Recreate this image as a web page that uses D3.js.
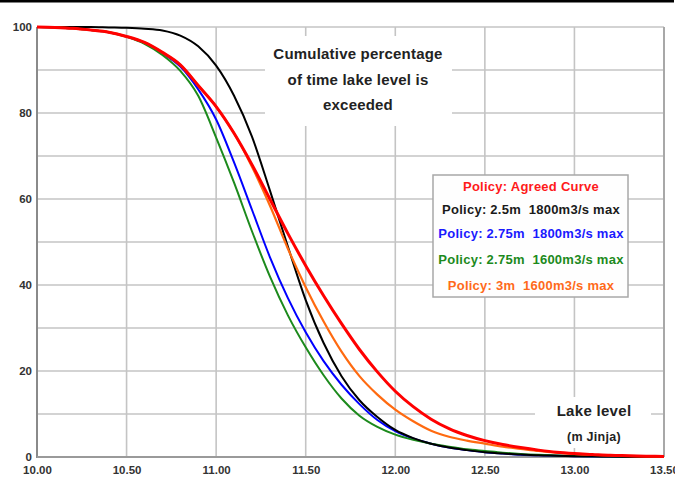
<!DOCTYPE html>
<html>
<head>
<meta charset="utf-8">
<script src="https://cdn.jsdelivr.net/npm/d3@7/dist/d3.min.js"></script>
<style>
  body { margin: 0; background: #fff; }
  text { font-family: "Liberation Sans", Arial, sans-serif; font-weight: bold; }
</style>
</head>
<body>
<div id="chart"></div>
<script>
// lake level (m Jinja) on the x axis
var levels = [10.0, 10.1, 10.2, 10.3, 10.4, 10.5, 10.6, 10.7, 10.8, 10.9,
              11.0, 11.1, 11.2, 11.3, 11.4, 11.5, 11.6, 11.7, 11.8, 11.9,
              12.0, 12.1, 12.2, 12.3, 12.4, 12.5, 12.6, 12.7, 12.8, 12.9,
              13.0, 13.1, 13.2, 13.3, 13.4, 13.5];

// cumulative % of time each level is exceeded, one list per policy
var agreedCurve = [100, 99.9, 99.7, 99.3, 98.8, 97.8, 96.4, 94.1, 91.2, 86.4,
                   81.5, 75.3, 68, 60, 52, 44.5, 37.5, 31, 25, 19.8,
                   15.3, 11.7, 8.8, 6.6, 5.0, 3.8, 2.9, 2.2, 1.6, 1.1,
                   0.8, 0.6, 0.4, 0.3, 0.2, 0.1];
var policy25m1800 = [100, 100, 100, 100, 99.9, 99.8, 99.6, 99.2, 98.0, 95.5,
                     91.0, 84.0, 74.5, 62, 49.0, 36.5, 26.5, 18.8, 13.2, 9.3,
                     6.3, 4.4, 3.1, 2.2, 1.6, 1.1, 0.8, 0.6, 0.4, 0.3,
                     0.2, 0.15, 0.1, 0.05, 0, 0];
var policy275m1800 = [100, 99.9, 99.7, 99.3, 98.8, 97.8, 96.3, 93.9, 90.8, 85.5,
                      78.5, 68.5, 57.5, 46.5, 37, 29, 22.3, 16.8, 12.3, 8.6,
                      6.0, 4.3, 3.1, 2.2, 1.6, 1.1, 0.8, 0.55, 0.4, 0.3,
                      0.2, 0.12, 0.08, 0.05, 0, 0];
var policy275m1600 = [100, 99.9, 99.7, 99.3, 98.8, 97.7, 96.1, 93.5, 89.8, 84,
                      74.3, 63.8, 52.5, 42, 33, 25.5, 19.0, 13.6, 9.6, 7.0,
                      5.2, 4.0, 3.1, 2.4, 1.8, 1.4, 1.0, 0.7, 0.5, 0.35,
                      0.25, 0.15, 0.1, 0.05, 0, 0];
var policy3m1600 = [100, 99.9, 99.7, 99.3, 98.8, 97.8, 96.4, 94.1, 91.2, 86.4,
                    81.5, 75.3, 67.5, 58.5, 48.5, 39.5, 31.5, 24.5, 18.8, 14.5,
                    11.0, 8.3, 6.1, 4.7, 3.8, 3.1, 2.4, 1.9, 1.4, 1.0,
                    0.7, 0.5, 0.35, 0.25, 0.15, 0.1];

// tick labels
var xTicks = [10.0, 10.5, 11.0, 11.5, 12.0, 12.5, 13.0, 13.5];
var yTicks = [0, 20, 40, 60, 80, 100];
var yGrid = [10, 20, 30, 40, 50, 60, 70, 80, 90, 100];

// legend / title texts
var legendLabels = ["Policy: Agreed Curve",
                    "Policy: 2.5m  1800m3/s max",
                    "Policy: 2.75m  1800m3/s max",
                    "Policy: 2.75m  1600m3/s max",
                    "Policy: 3m  1600m3/s max"];
var titleLines = ["Cumulative percentage", "of time lake level is", "exceeded"];

//define width and height
var width = 675;
var height = 478;

var svg = d3.select("#chart").append("svg")
            .attr("width", width).attr("height", height);

var x = d3.scaleLinear().domain([10, 13.5]).range([37, 664]);
var y = d3.scaleLinear().domain([0, 100]).range([457, 27]);

//black bar at the very top
svg.append("rect").attr("x", 0).attr("y", 0).attr("width", 674).attr("height", 2.5)
   .attr("fill", "#000");

//grid lines
svg.append("g").selectAll("line").data(yGrid).enter().append("line")
   .attr("x1", x(10)).attr("x2", x(13.5))
   .attr("y1", function(d) { return y(d); }).attr("y2", function(d) { return y(d); })
   .attr("stroke", "#c4c4c4").attr("stroke-width", 1.6);

svg.append("g").selectAll("line").data(xTicks.slice(1)).enter().append("line")
   .attr("x1", function(d) { return x(d); }).attr("x2", function(d) { return x(d); })
   .attr("y1", y(100)).attr("y2", y(0))
   .attr("stroke", function(d) { return d === 13.5 ? "#a8a8a8" : "#c4c4c4"; })
   .attr("stroke-width", function(d) { return d === 13.5 ? 2 : 1.6; });

//white boxes behind the notes
svg.append("rect").attr("x", 265).attr("y", 36).attr("width", 187).attr("height", 90)
   .attr("fill", "#fff");
svg.append("rect").attr("x", 535).attr("y", 397).attr("width", 116).attr("height", 51)
   .attr("fill", "#fff");

//axis lines
svg.append("line").attr("x1", x(10)).attr("x2", x(10)).attr("y1", y(100)).attr("y2", y(0) + 1)
   .attr("stroke", "#8a8a8a").attr("stroke-width", 2);
svg.append("line").attr("x1", x(10)).attr("x2", x(13.5)).attr("y1", y(0)).attr("y2", y(0))
   .attr("stroke", "#9a9a9a").attr("stroke-width", 2);

//tick labels through axes
var xAxis = d3.axisBottom(x).tickValues(xTicks).tickFormat(d3.format(".2f"))
              .tickSize(0).tickPadding(9);
var gx = svg.append("g").attr("transform", "translate(0," + y(0) + ")").call(xAxis);
gx.select(".domain").remove();
gx.selectAll("text").attr("font-size", 11.5).attr("fill", "#333")
  .style("font-family", "'Liberation Sans', Arial, sans-serif").style("font-weight", "bold");

var yAxis = d3.axisLeft(y).tickValues(yTicks).tickFormat(d3.format("d"))
              .tickSize(0).tickPadding(5);
var gy = svg.append("g").attr("transform", "translate(" + x(10) + ",0)").call(yAxis);
gy.select(".domain").remove();
gy.selectAll("text").attr("font-size", 11.5).attr("fill", "#333")
  .style("font-family", "'Liberation Sans', Arial, sans-serif").style("font-weight", "bold");

//curves
var series = [
  { values: policy275m1800, color: "#0000ff", w: 2 },
  { values: policy275m1600, color: "#1c8a1c", w: 2 },
  { values: policy25m1800, color: "#000000", w: 2 },
  { values: policy3m1600, color: "#ff6a10", w: 2.2 },
  { values: agreedCurve, color: "#ff0000", w: 3 }
];

var line = d3.line()
  .x(function(d, i) { return x(levels[i]); })
  .y(function(d) { return y(d); })
  .curve(d3.curveMonotoneX);

svg.append("g").selectAll("path").data(series).enter().append("path")
   .attr("d", function(s) { return line(s.values); })
   .attr("fill", "none")
   .attr("stroke", function(s) { return s.color; })
   .attr("stroke-width", function(s) { return s.w; })
   .attr("stroke-linejoin", "round");

//title note
svg.append("g").selectAll("text").data(titleLines).enter().append("text")
   .attr("x", 358).attr("y", function(d, i) { return 59 + i * 25.5; })
   .attr("text-anchor", "middle").attr("font-size", 15).attr("letter-spacing", 0.2)
   .attr("fill", "#222")
   .text(function(d) { return d; });

//axis note
svg.append("text").attr("x", 594).attr("y", 416).attr("text-anchor", "middle")
   .attr("font-size", 15).attr("letter-spacing", 0.3).attr("fill", "#222").text("Lake level");
svg.append("text").attr("x", 594).attr("y", 440.5).attr("text-anchor", "middle")
   .attr("font-size", 12.5).attr("letter-spacing", 0.3).attr("fill", "#222").text("(m Jinja)");

//legend box
var legendColors = ["#ff1a1a", "#1a1a1a", "#1a1aff", "#1c8a1c", "#ff6a1a"];
svg.append("rect").attr("x", 433).attr("y", 175).attr("width", 195).attr("height", 122)
   .attr("fill", "#fefefe").attr("stroke", "#a8a8a8").attr("stroke-width", 1.5);
svg.append("g").selectAll("text").data(legendLabels).enter().append("text")
   .attr("x", 531)
   .attr("y", function(d, i) { return [190.5, 214, 238, 264, 289.5][i]; })
   .attr("text-anchor", "middle").attr("font-size", 13).attr("letter-spacing", 0.25)
   .style("white-space", "pre")
   .attr("fill", function(d, i) { return legendColors[i]; })
   .text(function(d) { return d; });
</script>
</body>
</html>
